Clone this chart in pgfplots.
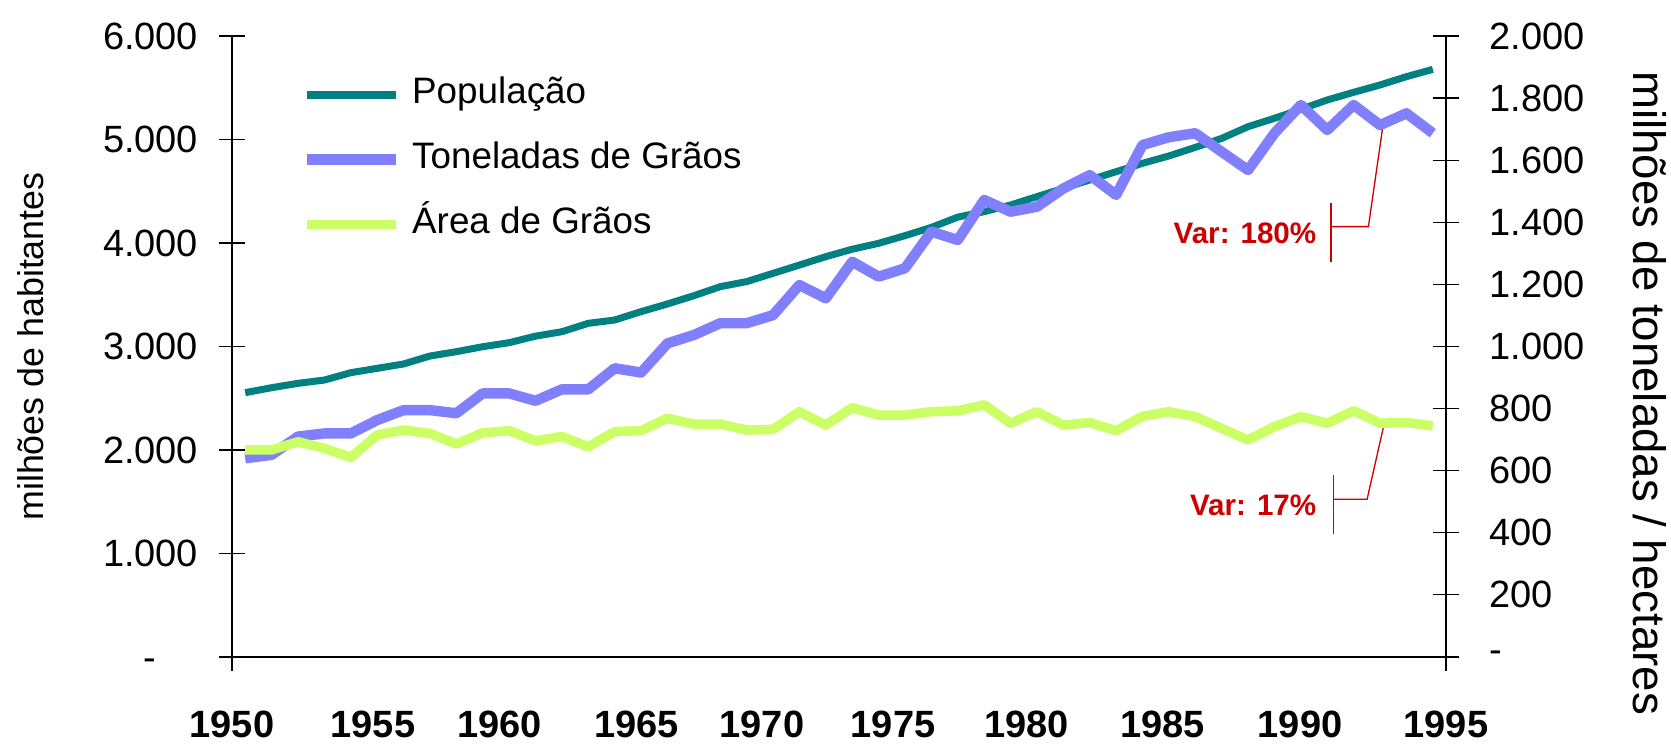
\documentclass[border=0pt]{standalone}
\usepackage{fontspec}
\setmainfont{Liberation Sans}
\usepackage{pgfplots}
\usepackage{pgfplotstable}
\pgfplotsset{compat=1.18}
\definecolor{popc}{HTML}{008080}
\definecolor{tonc}{HTML}{8080FF}
\definecolor{arec}{HTML}{CCFF66}
\definecolor{varc}{HTML}{CC0000}

\pgfplotstableread{
year pop
1950 2554
1951 2602
1952 2644
1953 2676
1954 2747
1955 2789
1956 2831
1957 2908
1958 2950
1959 2998
1960 3037
1961 3100
1962 3143
1963 3224
1964 3256
1965 3337
1966 3411
1967 3491
1968 3578
1969 3627
1970 3707
1971 3787
1972 3868
1973 3940
1974 3997
1975 4071
1976 4151
1977 4250
1978 4303
1979 4367
1980 4448
1981 4528
1982 4609
1983 4689
1984 4770
1985 4841
1986 4924
1987 5011
1988 5124
1989 5205
1990 5292
1991 5382
1992 5456
1993 5527
1994 5607
1995 5678
}\poptable

\pgfplotstableread{
year ton area
1950 640 667
1951 651 667
1952 710 693
1953 720 672
1954 720 643
1955 763 715
1956 795 731
1957 795 720
1958 785 686
1959 849 722
1960 849 729
1961 825 696
1962 862 710
1963 862 677
1964 930 726
1965 916 729
1966 1010 769
1967 1037 750
1968 1075 750
1969 1075 731
1970 1101 733
1971 1198 790
1972 1155 747
1973 1273 803
1974 1225 779
1975 1252 779
1976 1370 790
1977 1343 793
1978 1472 812
1979 1434 753
1980 1450 790
1981 1509 747
1982 1552 755
1983 1488 729
1984 1649 775
1985 1674 790
1986 1687 774
1987 1627 736
1988 1568 699
1989 1687 742
1990 1778 774
1991 1697 753
1992 1778 793
1993 1713 753
1994 1751 755
1995 1687 744
}\graintable

\begin{document}
\begin{tikzpicture}
\useasboundingbox (0,0) rectangle (835.5pt,372pt);
\begin{axis}[
  at={(116pt,43.5pt)}, anchor=south west,
  scale only axis, width=607pt, height=310.5pt,
  xmin=1949.5, xmax=1995.5, ymin=0, ymax=6000,
  axis lines*=left,
  axis line style={line width=0.6pt, black},
  tick align=center, major tick length=13.5pt,
  tick style={line width=0.6pt, black},
  xtick={1949.5,1995.5}, xticklabels={,},
  extra x ticks={1949.5,1954.84,1959.65,1964.82,1969.58,1974.55,1979.60,1984.77,1989.97,1995.5},
  extra x tick labels={1950,1955,1960,1965,1970,1975,1980,1985,1990,1995},
  extra x tick style={major tick length=0pt},
  xticklabel style={font=\bfseries\fontsize{19}{19}\selectfont, anchor=north, inner sep=0pt, text depth=0pt, yshift=-27pt},
  ytick={0,1000,2000,3000,4000,5000,6000},
  yticklabels={-\phantom{00},1.000,2.000,3.000,4.000,5.000,6.000},
  yticklabel style={font=\fontsize{19}{19}\selectfont, anchor=east, inner sep=0pt, xshift=-10pt},
  every axis y label/.style={at={(axis description cs:-0.1656,0.5)}, rotate=90, anchor=center, font=\fontsize{17.9}{17.9}\selectfont},
  ylabel={milhões de habitantes},
  clip=false,
]
\addplot[popc, line width=3.5pt, line join=round] table[x=year, y=pop] {\poptable};
\end{axis}

\begin{axis}[
  at={(116pt,43.5pt)}, anchor=south west,
  scale only axis, width=607pt, height=310.5pt,
  xmin=1949.5, xmax=1995.5, ymin=0, ymax=2000,
  axis x line=none, axis y line*=right,
  axis line style={line width=0.6pt, black},
  tick align=center, major tick length=13.5pt,
  tick style={line width=0.6pt, black},
  ytick={0,200,400,600,800,1000,1200,1400,1600,1800,2000},
  yticklabels={-,200,400,600,800,1.000,1.200,1.400,1.600,1.800,2.000},
  yticklabel style={font=\fontsize{19}{19}\selectfont, anchor=west, inner sep=0pt, xshift=14.85pt},
  every axis y label/.style={at={(axis description cs:1.168,0.425)}, rotate=-90, anchor=center, font=\fontsize{22.8}{22.8}\selectfont},
  ylabel={milhões de toneladas / hectares},
  clip=false,
  legend style={at={(axis description cs:0.0575,0.9345)}, anchor=north west, draw=none, fill=none, inner sep=0pt, outer sep=0pt, row sep=19.2pt, font=\fontsize{18.4}{18.4}\selectfont, nodes={inner sep=0pt, text height=13.3pt, text depth=0pt}, /tikz/every odd column/.append style={column sep=5.5pt}},
  legend cell align=left,
  legend image code/.code={\draw[#1, line cap=butt] (0pt,-2.3pt) -- (44.5pt,-2.3pt);},
]
\addlegendimage{popc, line width=4pt}
\addlegendentry{População}
\addplot[tonc, line width=5.2pt, line join=round] table[x=year, y=ton] {\graintable};
\addlegendentry{Toneladas de Grãos}
\addplot[arec, line width=4.8pt, line join=round] table[x=year, y=area] {\graintable};
\addlegendentry{Área de Grãos}

\draw[varc, line width=0.65pt] (axis cs:1991.14,1461) -- (axis cs:1991.14,1273);
\draw[varc, line width=0.65pt] (axis cs:1991.14,1386) -- (axis cs:1992.56,1386) -- (axis cs:1993.09,1699);
\node[anchor=east, text=varc, font=\bfseries\fontsize{14.8}{14.8}\selectfont, inner sep=0pt] at (axis cs:1990.6,1366) {Var: 180\%};

\draw[varc, line width=0.65pt] (axis cs:1991.24,586) -- (axis cs:1991.24,396);
\draw[varc, line width=0.65pt] (axis cs:1991.24,508) -- (axis cs:1992.51,508) -- (axis cs:1993.12,737);
\node[anchor=east, text=varc, font=\bfseries\fontsize{14.8}{14.8}\selectfont, inner sep=0pt] at (axis cs:1990.6,487) {Var: 17\%};
\end{axis}
\end{tikzpicture}
\end{document}
